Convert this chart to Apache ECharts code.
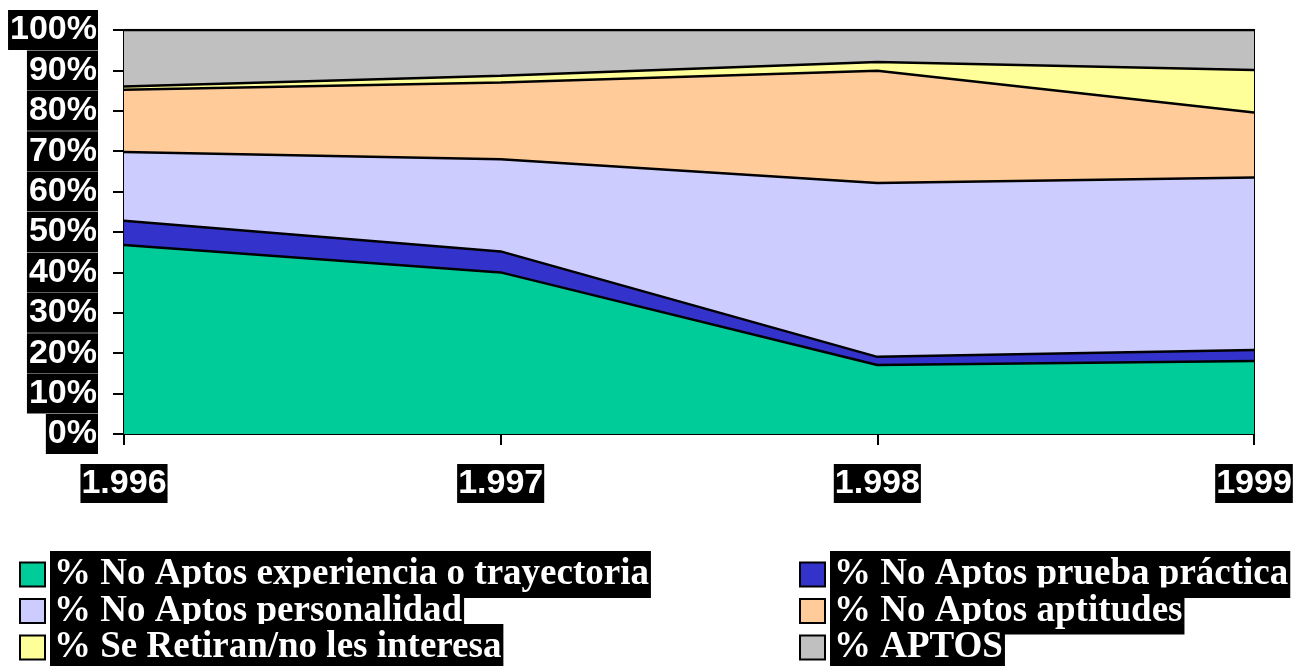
<!DOCTYPE html>
<html>
<head>
<meta charset="utf-8">
<script src="https://cdn.jsdelivr.net/npm/echarts@6/dist/echarts.min.js"></script>
<style>
html,body{margin:0;padding:0;background:#fff;}
#chart{width:1309px;height:666px;}
</style>
</head>
<body>
<div id="chart"></div>
<script>
var categories = ['1.996', '1.997', '1.998', '1999'];
var seriesNames = [
  '% No Aptos experiencia o trayectoria',
  '% No Aptos prueba práctica',
  '% No Aptos personalidad',
  '% No Aptos aptitudes',
  '% Se Retiran/no les interesa',
  '% APTOS'
];
var experiencia = [46.8, 40.0, 17.1, 18.1];
var pruebaPractica = [6.0, 5.2, 2.0, 2.7];
var personalidad = [17.0, 22.8, 43.0, 42.7];
var aptitudes = [15.4, 19.0, 27.8, 16.1];
var seRetiran = [0.8, 1.7, 2.2, 10.5];
var aptos = [14.0, 11.3, 7.9, 9.9];
var colors = ['#00CC99', '#3333CC', '#CCCCFF', '#FFCC99', '#FFFF99', '#C0C0C0'];

var values = [experiencia, pruebaPractica, personalidad, aptitudes, seRetiran, aptos];

var chart = echarts.init(document.getElementById('chart'), null, {renderer: 'canvas'});

var legendText = {
  color: '#fff',
  fontFamily: 'Liberation Serif',
  fontWeight: 'bold',
  fontSize: 37,
  lineHeight: 34,
  backgroundColor: '#000',
  padding: [12, 2, 1, 4]
};

function makeLegend(left, data) {
  return {
    orient: 'vertical',
    left: left,
    top: 551,
    height: 200,
    padding: 0,
    itemGap: -10.5,
    itemWidth: 25,
    itemHeight: 24,
    icon: 'rect',
    itemStyle: {borderColor: '#000', borderWidth: 2},
    selectedMode: false,
    textStyle: legendText,
    data: data
  };
}

var option = {
  animation: false,
  backgroundColor: '#fff',
  color: colors,
  grid: {
    left: 124, right: 55, top: 30, bottom: 232,
    show: true, borderColor: '#000', borderWidth: 2, backgroundColor: 'transparent'
  },
  legend: [
    makeLegend(19, [seriesNames[0], seriesNames[2], seriesNames[4]]),
    makeLegend(799, [seriesNames[1], seriesNames[3], seriesNames[5]])
  ],
  xAxis: {
    type: 'category',
    boundaryGap: false,
    data: categories,
    axisLine: {lineStyle: {color: '#000', width: 2}},
    axisTick: {show: true, length: 11, lineStyle: {color: '#000', width: 2}},
    axisLabel: {
      color: '#fff', fontFamily: 'Liberation Sans', fontWeight: 'bold', fontSize: 34,
      lineHeight: 36, backgroundColor: '#000', padding: [2, 1, 1, 1], margin: 30
    },
    splitLine: {show: false}
  },
  yAxis: {
    type: 'value',
    min: 0, max: 100, interval: 10,
    axisLine: {show: true, lineStyle: {color: '#000', width: 2}},
    axisTick: {show: true, length: 11, lineStyle: {color: '#000', width: 2}},
    axisLabel: {
      formatter: '{value}%',
      color: '#fff', fontFamily: 'Liberation Sans', fontWeight: 'bold', fontSize: 34,
      lineHeight: 36, backgroundColor: '#000', padding: [2, 1, 2, 2], margin: 26
    },
    splitLine: {show: false}
  },
  series: values.map(function (v, i) {
    return {
      name: seriesNames[i],
      type: 'line',
      stack: 'total',
      data: v,
      z: 10 - i,
      symbol: 'none',
      itemStyle: {color: colors[i]},
      lineStyle: {color: '#000', width: 2.5},
      areaStyle: {color: colors[i], opacity: 1},
      emphasis: {disabled: true}
    };
  })
};
chart.setOption(option);
</script>
</body>
</html>
